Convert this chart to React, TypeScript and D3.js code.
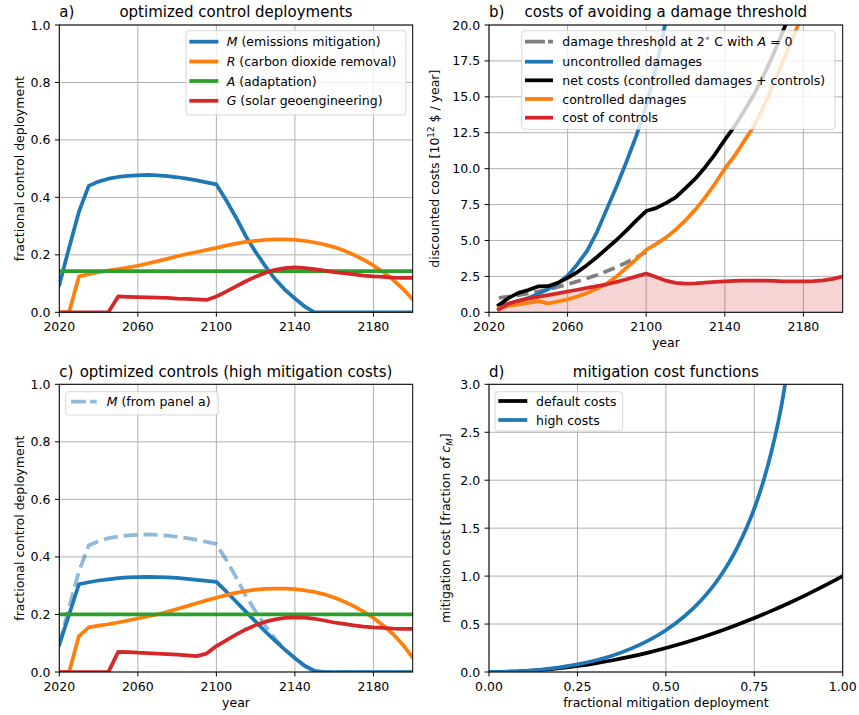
import React from "react";
import * as d3 from "d3";

const FONT = "'DejaVu Sans', sans-serif";
const BLUE = "#1f77b4";
const ORANGE = "#ff7f0e";
const GREEN = "#2ca02c";
const RED = "#d62728";
const LW = 3.75;

// ---------- data ----------
const years = [2020, 2025, 2030, 2035, 2040, 2045, 2050, 2055, 2060, 2065, 2070, 2075, 2080, 2085, 2090, 2095, 2100, 2105, 2110, 2115, 2120, 2125, 2130, 2135, 2140, 2145, 2150, 2155, 2160, 2165, 2170, 2175, 2180, 2185, 2190, 2195, 2200];
const yearTicks = [2020, 2060, 2100, 2140, 2180];
const fracTicks = [0, 0.2, 0.4, 0.6, 0.8, 1.0];

// panel a
const mitigationA = [0.095, 0.225, 0.35, 0.44, 0.455, 0.465, 0.471, 0.475, 0.477, 0.478, 0.477, 0.474, 0.47, 0.465, 0.459, 0.452, 0.445, 0.39, 0.33, 0.265, 0.21, 0.16, 0.115, 0.078, 0.048, 0.02, 0, 0, 0, 0, 0, 0, 0, 0, 0, 0, 0];
const removalA = [0, 0, 0.125, 0.133, 0.14, 0.145, 0.15, 0.156, 0.162, 0.17, 0.178, 0.186, 0.195, 0.203, 0.21, 0.217, 0.224, 0.232, 0.239, 0.245, 0.249, 0.252, 0.254, 0.254, 0.252, 0.249, 0.243, 0.236, 0.227, 0.215, 0.2, 0.183, 0.163, 0.14, 0.113, 0.082, 0.045];
const adaptationA = [0.143, 0.143, 0.143, 0.143, 0.143, 0.143, 0.143, 0.143, 0.143, 0.143, 0.143, 0.143, 0.143, 0.143, 0.143, 0.143, 0.143, 0.143, 0.143, 0.143, 0.143, 0.143, 0.143, 0.143, 0.143, 0.143, 0.143, 0.143, 0.143, 0.143, 0.143, 0.143, 0.143, 0.143, 0.143, 0.143, 0.143];
const geoengA = [0, 0, 0, 0, 0, 0, 0.055, 0.054, 0.053, 0.052, 0.051, 0.05, 0.048, 0.047, 0.045, 0.043, 0.055, 0.072, 0.09, 0.108, 0.124, 0.138, 0.148, 0.154, 0.156, 0.154, 0.15, 0.145, 0.14, 0.136, 0.132, 0.128, 0.125, 0.123, 0.121, 0.12, 0.12];

// panel c
const mitigationC = [0.095, 0.2, 0.305, 0.312, 0.318, 0.322, 0.326, 0.329, 0.33, 0.331, 0.33, 0.329, 0.327, 0.324, 0.32, 0.317, 0.313, 0.28, 0.245, 0.21, 0.175, 0.14, 0.108, 0.077, 0.048, 0.022, 0.004, 0, 0, 0, 0, 0, 0, 0, 0, 0, 0];
const removalC = [0, 0, 0.125, 0.155, 0.161, 0.166, 0.172, 0.179, 0.186, 0.193, 0.2, 0.209, 0.219, 0.229, 0.239, 0.249, 0.258, 0.267, 0.275, 0.281, 0.286, 0.289, 0.29, 0.29, 0.288, 0.284, 0.278, 0.27, 0.259, 0.245, 0.229, 0.21, 0.188, 0.162, 0.132, 0.095, 0.05];
const adaptationC = [0.2, 0.2, 0.2, 0.2, 0.2, 0.2, 0.2, 0.2, 0.2, 0.2, 0.2, 0.2, 0.2, 0.2, 0.2, 0.2, 0.2, 0.2, 0.2, 0.2, 0.2, 0.2, 0.2, 0.2, 0.2, 0.2, 0.2, 0.2, 0.2, 0.2, 0.2, 0.2, 0.2, 0.2, 0.2, 0.2, 0.2];
const geoengC = [0, 0, 0, 0, 0, 0, 0.07, 0.069, 0.067, 0.066, 0.064, 0.062, 0.06, 0.058, 0.055, 0.064, 0.09, 0.11, 0.13, 0.148, 0.163, 0.175, 0.183, 0.188, 0.19, 0.189, 0.185, 0.179, 0.172, 0.167, 0.162, 0.158, 0.155, 0.153, 0.151, 0.15, 0.15];

// panel b (2025 .. 2200)
const yearsB = [2025, 2030, 2035, 2040, 2045, 2050, 2055, 2060, 2065, 2070, 2075, 2080, 2085, 2090, 2095, 2100, 2105, 2110, 2115, 2120, 2125, 2130, 2135, 2140, 2145, 2150, 2155, 2160, 2165, 2170, 2175, 2180, 2185, 2190, 2195, 2200];
const costTicks = [0, 2.5, 5, 7.5, 10, 12.5, 15, 17.5, 20];
const threshold = [1.0, 1.1, 1.2, 1.32, 1.45, 1.6, 1.77, 1.95, 2.15, 2.37, 2.6, 2.87, 3.15, 3.47, 3.82, 4.2, null, null, null, null, null, null, null, null, null, null, null, null, null, null, null, null, null, null, null, null];
const uncontrolled = [0.45, 0.6, 0.78, 1.0, 1.28, 1.6, 2.0, 2.55, 3.35, 4.3, 5.6, 7.2, 8.8, 10.5, 12.3, 14.4, 17.0, 20.3, 24.0, null, null, null, null, null, null, null, null, null, null, null, null, null, null, null, null, null];
const netCosts = [0.5, 1.0, 1.35, 1.55, 1.8, 1.82, 2.05, 2.4, 2.8, 3.3, 3.85, 4.45, 5.05, 5.7, 6.4, 7.05, 7.25, 7.6, 8.0, 8.65, 9.3, 10.1, 11.0, 12.0, 12.95, 14.05, 15.2, 16.55, 18.05, 19.7, 21.4, null, null, null, null, null];
const controlled = [0.3, 0.45, 0.55, 0.65, 0.78, 0.62, 0.75, 0.9, 1.1, 1.35, 1.65, 2.0, 2.5, 3.1, 3.7, 4.35, 4.75, 5.2, 5.75, 6.4, 7.15, 8.0, 8.95, 10.0, 10.9, 11.95, 13.0, 14.4, 16.0, 17.6, 19.2, 21.0, null, null, null, null];
const controlCost = [0.2, 0.6, 0.8, 0.95, 1.08, 1.2, 1.32, 1.45, 1.57, 1.7, 1.82, 1.95, 2.12, 2.3, 2.5, 2.7, 2.45, 2.2, 2.05, 2.0, 2.02, 2.07, 2.12, 2.15, 2.18, 2.2, 2.2, 2.2, 2.18, 2.16, 2.15, 2.15, 2.17, 2.22, 2.33, 2.5];

// panel d
const muDefault = [0, 0.05, 0.1, 0.15, 0.2, 0.25, 0.3, 0.35, 0.4, 0.45, 0.5, 0.55, 0.6, 0.65, 0.7, 0.75, 0.8, 0.85, 0.9, 0.95, 1.0];
const costDefault = [0, 0.0025, 0.01, 0.0225, 0.04, 0.0625, 0.09, 0.1225, 0.16, 0.2025, 0.25, 0.3025, 0.36, 0.4225, 0.49, 0.5625, 0.64, 0.7225, 0.81, 0.9025, 1.0];
const muHigh = [0, 0.05, 0.1, 0.15, 0.2, 0.25, 0.3, 0.35, 0.4, 0.45, 0.5, 0.55, 0.6, 0.65, 0.7, 0.75, 0.775, 0.8, 0.825, 0.85];
const costHigh = [0, 0.003, 0.011, 0.026, 0.048, 0.079, 0.12, 0.173, 0.241, 0.327, 0.435, 0.573, 0.749, 0.978, 1.284, 1.705, 1.98, 2.32, 2.74, 3.3];
const muTicks = [0, 0.25, 0.5, 0.75, 1.0];
const mcTicks = [0, 0.5, 1.0, 1.5, 2.0, 2.5, 3.0];

// ---------- helpers ----------
type Geo = { l: number; t: number; r: number; b: number };
const GA: Geo = { l: 59.3, t: 25, r: 412.7, b: 312.3 };
const GB: Geo = { l: 489, t: 25, r: 842.7, b: 312.3 };
const GC: Geo = { l: 59.3, t: 384.3, r: 412.7, b: 672 };
const GD: Geo = { l: 489, t: 384.3, r: 842.7, b: 672 };

function path(xs: number[], ys: (number | null)[], x: any, y: any, curve?: any) {
  const idx = xs.map((_, i) => i);
  const ln = d3
    .line<number>()
    .defined((i) => ys[i] != null)
    .x((i) => x(xs[i]))
    .y((i) => y(ys[i] as number));
  if (curve) ln.curve(curve);
  return ln(idx) || "";
}

function Axes(props: {
  id: string;
  g: Geo;
  x: any;
  y: any;
  xTicks: number[];
  xFmt: (v: number) => string;
  yTicks: number[];
  yFmt: (v: number) => string;
  children?: React.ReactNode;
  overlay?: React.ReactNode;
}) {
  const { id, g, x, y, xTicks, xFmt, yTicks, yFmt } = props;
  return (
    <g>
      <defs>
        <clipPath id={id}>
          <rect x={g.l} y={g.t} width={g.r - g.l} height={g.b - g.t} />
        </clipPath>
      </defs>
      <g stroke="#b0b0b0" strokeWidth={1}>
        {xTicks.map((v) => (
          <line key={"gx" + v} x1={x(v)} x2={x(v)} y1={g.t} y2={g.b} />
        ))}
        {yTicks.map((v) => (
          <line key={"gy" + v} x1={g.l} x2={g.r} y1={y(v)} y2={y(v)} />
        ))}
      </g>
      <g clipPath={`url(#${id})`}>{props.children}</g>
      {props.overlay}
      <rect x={g.l} y={g.t} width={g.r - g.l} height={g.b - g.t} fill="none" stroke="#000" strokeWidth={1} />
      <g stroke="#000" strokeWidth={1}>
        {xTicks.map((v) => (
          <line key={"tx" + v} x1={x(v)} x2={x(v)} y1={g.b} y2={g.b + 4.4} />
        ))}
        {yTicks.map((v) => (
          <line key={"ty" + v} x1={g.l - 4.4} x2={g.l} y1={y(v)} y2={y(v)} />
        ))}
      </g>
      <g fontFamily={FONT} fontSize={12.5} fill="#000">
        {xTicks.map((v) => (
          <text key={"lx" + v} x={x(v)} y={g.b + 18.7} textAnchor="middle">
            {xFmt(v)}
          </text>
        ))}
        {yTicks.map((v) => (
          <text key={"ly" + v} x={g.l - 8.8} y={y(v) + 4.5} textAnchor="end">
            {yFmt(v)}
          </text>
        ))}
      </g>
    </g>
  );
}

type LegendItem = { label: React.ReactNode; color: string; dash?: string; opacity?: number };

function Legend(props: {
  box: [number, number, number, number];
  handle: [number, number];
  textX: number;
  rows: number[];
  items: LegendItem[];
}) {
  const [bx0, by0, bx1, by1] = props.box;
  return (
    <g>
      <rect x={bx0} y={by0} width={bx1 - bx0} height={by1 - by0} rx={3} fill="#fff" fillOpacity={0.8} stroke="#cccccc" strokeOpacity={0.8} strokeWidth={1} />
      {props.items.map((it, i) => {
        const yy = props.rows[i];
        return (
          <g key={i}>
            {it.dash ? (
              <line x1={props.handle[0]} x2={props.handle[1]} y1={yy} y2={yy} stroke={it.color} strokeWidth={LW} strokeDasharray={it.dash} strokeOpacity={it.opacity ?? 1} />
            ) : (
              <line x1={props.handle[0] + 1.9} x2={props.handle[1] - 1.9} y1={yy} y2={yy} stroke={it.color} strokeWidth={LW} strokeLinecap="square" strokeOpacity={it.opacity ?? 1} />
            )}
            <text x={props.textX} y={yy + 4.5} fontFamily={FONT} fontSize={12.5} fill="#000">
              {it.label}
            </text>
          </g>
        );
      })}
    </g>
  );
}

function Title({ g, letter, text }: { g: Geo; letter: string; text: string }) {
  return (
    <g fontFamily={FONT} fontSize={15} fill="#000">
      <text x={g.l} y={g.t - 7.7}>{letter}</text>
      <text x={(g.l + g.r) / 2} y={g.t - 7.7} textAnchor="middle">{text}</text>
    </g>
  );
}

function YLabel({ x, g, children }: { x: number; g: Geo; children: React.ReactNode }) {
  return (
    <text transform={`translate(${x},${(g.t + g.b) / 2}) rotate(-90)`} textAnchor="middle" fontFamily={FONT} fontSize={12.5} fill="#000">
      {children}
    </text>
  );
}

function XLabel({ g, children }: { g: Geo; children: React.ReactNode }) {
  return (
    <text x={(g.l + g.r) / 2} y={g.b + 34.5} textAnchor="middle" fontFamily={FONT} fontSize={12.5} fill="#000">
      {children}
    </text>
  );
}

const fmt1 = d3.format(".1f");
const fmt2 = d3.format(".2f");
const fmtYear = (v: number) => String(v);

const I = ({ children }: { children: React.ReactNode }) => <tspan fontStyle="italic">{children}</tspan>;

function Line({ xs, ys, x, y, color, dash, opacity, curve }: any) {
  return (
    <path
      d={path(xs, ys, x, y, curve)}
      fill="none"
      stroke={color}
      strokeWidth={LW}
      strokeLinejoin="round"
      strokeLinecap={dash ? "butt" : "square"}
      strokeDasharray={dash}
      strokeOpacity={opacity ?? 1}
    />
  );
}

export default function App() {
  const xA = d3.scaleLinear().domain([2020, 2200]).range([GA.l, GA.r]);
  const yA = d3.scaleLinear().domain([0, 1]).range([GA.b, GA.t]);
  const xB = d3.scaleLinear().domain([2020, 2200]).range([GB.l, GB.r]);
  const yB = d3.scaleLinear().domain([0, 20]).range([GB.b, GB.t]);
  const xC = d3.scaleLinear().domain([2020, 2200]).range([GC.l, GC.r]);
  const yC = d3.scaleLinear().domain([0, 1]).range([GC.b, GC.t]);
  const xD = d3.scaleLinear().domain([0, 1]).range([GD.l, GD.r]);
  const yD = d3.scaleLinear().domain([0, 3]).range([GD.b, GD.t]);

  const fillB =
    d3
      .area<number>()
      .x((i) => xB(yearsB[i]))
      .y0(yB(0))
      .y1((i) => yB(controlCost[i]))(yearsB.map((_, i) => i)) || "";

  return (
    <svg width={859} height={715} style={{ position: "absolute", left: 0, top: 0, background: "#fff" }}>
      <rect x={0} y={0} width={859} height={715} fill="#fff" />

      {/* panel a */}
      <Axes id="clipA" g={GA} x={xA} y={yA} xTicks={yearTicks} xFmt={fmtYear} yTicks={fracTicks} yFmt={fmt1}
        overlay={
          <Legend box={[186, 30.7, 406, 115]} handle={[189.3, 218.3]} textX={226.7} rows={[41.7, 61.5, 81, 100.8]}
            items={[
              { label: <><I>M</I> (emissions mitigation)</>, color: BLUE },
              { label: <><I>R</I> (carbon dioxide removal)</>, color: ORANGE },
              { label: <><I>A</I> (adaptation)</>, color: GREEN },
              { label: <><I>G</I> (solar geoengineering)</>, color: RED },
            ]} />
        }>
        <Line xs={years} ys={mitigationA} x={xA} y={yA} color={BLUE} />
        <Line xs={years} ys={removalA} x={xA} y={yA} color={ORANGE} />
        <Line xs={years} ys={adaptationA} x={xA} y={yA} color={GREEN} />
        <Line xs={years} ys={geoengA} x={xA} y={yA} color={RED} />
      </Axes>
      <Title g={GA} letter="a)" text="optimized control deployments" />
      <YLabel x={24} g={GA}>fractional control deployment</YLabel>

      {/* panel b */}
      <Axes id="clipB" g={GB} x={xB} y={yB} xTicks={yearTicks} xFmt={fmtYear} yTicks={costTicks} yFmt={fmt1}
        overlay={
          <Legend box={[521.7, 30.7, 835, 129.3]} handle={[525, 553]} textX={562.3} rows={[41.7, 61.7, 80.3, 99, 117.7]}
            items={[
              { label: <>damage threshold at 2<tspan fontSize={9} dy={-5}>∘</tspan><tspan dy={5}> C with </tspan><I>A</I> = 0</>, color: "#808080", dash: "20,3,5,10" },
              { label: "uncontrolled damages", color: BLUE },
              { label: "net costs (controlled damages + controls)", color: "#000" },
              { label: "controlled damages", color: ORANGE },
              { label: "cost of controls", color: RED },
            ]} />
        }>
        <path d={fillB} fill={RED} fillOpacity={0.2} stroke="none" />
        <Line xs={yearsB} ys={threshold} x={xB} y={yB} color="#808080" dash="12,6" />
        <Line xs={yearsB} ys={uncontrolled} x={xB} y={yB} color={BLUE} />
        <Line xs={yearsB} ys={netCosts} x={xB} y={yB} color="#000" />
        <Line xs={yearsB} ys={controlled} x={xB} y={yB} color={ORANGE} />
        <Line xs={yearsB} ys={controlCost} x={xB} y={yB} color={RED} />
      </Axes>
      <Title g={GB} letter="b)" text="costs of avoiding a damage threshold" />
      <YLabel x={439} g={GB}>discounted costs [10<tspan fontSize={8.75} dy={-5}>12</tspan><tspan dy={5}>  $ / year]</tspan></YLabel>
      <XLabel g={GB}>year</XLabel>

      {/* panel c */}
      <Axes id="clipC" g={GC} x={xC} y={yC} xTicks={yearTicks} xFmt={fmtYear} yTicks={fracTicks} yFmt={fmt1}
        overlay={
          <Legend box={[65.7, 391.7, 218.3, 415]} handle={[71, 96.7]} textX={106.7} rows={[401.7]}
            items={[{ label: <><I>M</I> (from panel a)</>, color: BLUE, dash: "15,4,7,10", opacity: 0.5 }]} />
        }>
        <Line xs={years} ys={mitigationA} x={xC} y={yC} color={BLUE} dash="14,6" opacity={0.5} />
        <Line xs={years} ys={mitigationC} x={xC} y={yC} color={BLUE} />
        <Line xs={years} ys={removalC} x={xC} y={yC} color={ORANGE} />
        <Line xs={years} ys={adaptationC} x={xC} y={yC} color={GREEN} />
        <Line xs={years} ys={geoengC} x={xC} y={yC} color={RED} />
      </Axes>
      <Title g={GC} letter="c)" text="optimized controls (high mitigation costs)" />
      <YLabel x={24} g={GC}>fractional control deployment</YLabel>
      <XLabel g={GC}>year</XLabel>

      {/* panel d */}
      <Axes id="clipD" g={GD} x={xD} y={yD} xTicks={muTicks} xFmt={fmt2} yTicks={mcTicks} yFmt={fmt1}
        overlay={
          <Legend box={[495, 391.7, 622.7, 431]} handle={[498.3, 527.3]} textX={536} rows={[401, 420]}
            items={[
              { label: "default costs", color: "#000" },
              { label: "high costs", color: BLUE },
            ]} />
        }>
        <Line xs={muDefault} ys={costDefault} x={xD} y={yD} color="#000" curve={d3.curveMonotoneX} />
        <Line xs={muHigh} ys={costHigh} x={xD} y={yD} color={BLUE} curve={d3.curveMonotoneX} />
      </Axes>
      <Title g={GD} letter="d)" text="mitigation cost functions" />
      <YLabel x={450} g={GD}>mitigation cost [fraction of <I>c</I><tspan fontSize={8.75} dy={2.5} fontStyle="italic">M</tspan><tspan dy={-2.5}>]</tspan></YLabel>
      <XLabel g={GD}>fractional mitigation deployment</XLabel>
    </svg>
  );
}
